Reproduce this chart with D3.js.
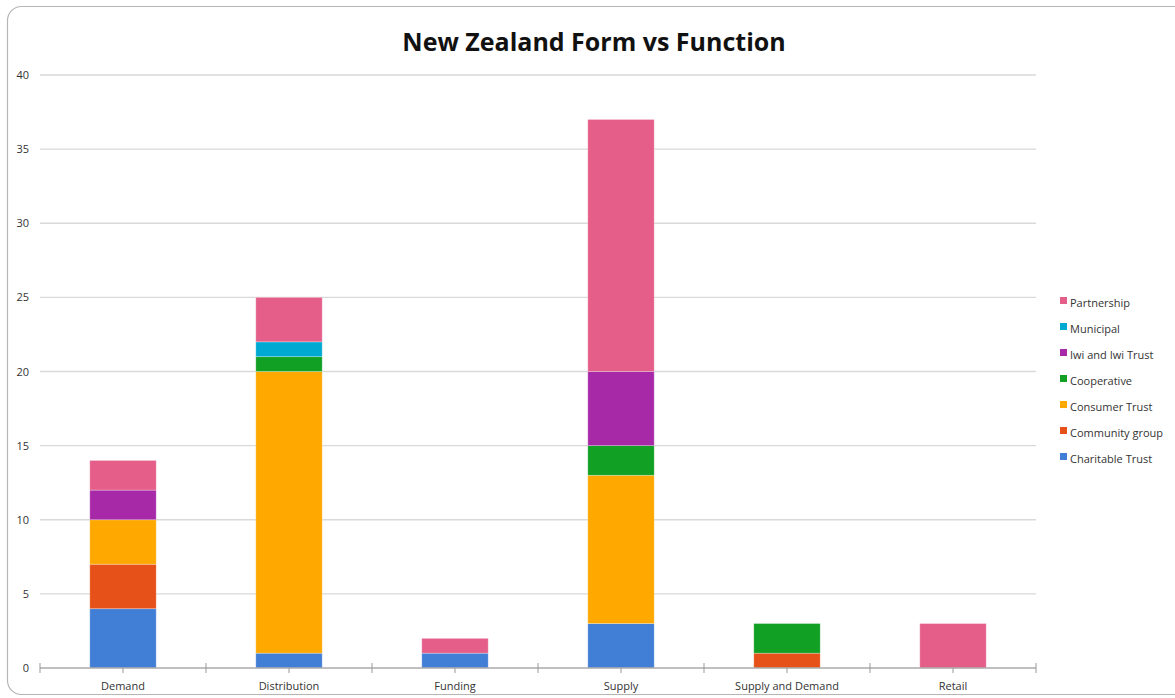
<!DOCTYPE html>
<html>
<head>
<meta charset="utf-8">
<script src="https://cdn.jsdelivr.net/npm/d3@7"></script>
<style>
  body { margin: 0; background: #fff; }
  svg { display: block; font-family: "Open Sans", sans-serif; }
</style>
</head>
<body>
<svg id="chart" width="1175" height="698"></svg>
<script>
// Data
const categories = ["Demand", "Distribution", "Funding", "Supply", "Supply and Demand", "Retail"];
const seriesNames = ["Charitable Trust", "Community group", "Consumer Trust", "Cooperative", "Iwi and Iwi Trust", "Municipal", "Partnership"];
const charitableTrust = [4, 1, 1, 3, 0, 0];
const communityGroup  = [3, 0, 0, 0, 1, 0];
const consumerTrust   = [3, 19, 0, 10, 0, 0];
const cooperative     = [0, 1, 0, 2, 2, 0];
const iwiTrust        = [2, 0, 0, 5, 0, 0];
const municipal       = [0, 1, 0, 0, 0, 0];
const partnership     = [2, 3, 1, 17, 0, 3];
const yTicks = [0, 5, 10, 15, 20, 25, 30, 35, 40];

const colors = ["#417ed6", "#e65119", "#ffa800", "#12a024", "#a829a8", "#00a9d1", "#e55e8a"];
const seriesValues = [charitableTrust, communityGroup, consumerTrust, cooperative, iwiTrust, municipal, partnership];

// build table for d3.stack
const table = categories.map((c, i) => {
  let row = { category: c };
  seriesNames.forEach((s, j) => { row[s] = seriesValues[j][i]; });
  return row;
});

const svg = d3.select("#chart");

let margin = { left: 40, right: 1036, top: 75, bottom: 668 };

// Outer frame
svg.append("rect")
  .attr("x", 7.5).attr("y", 6.5)
  .attr("width", 1200).attr("height", 688)
  .attr("rx", 14)
  .attr("fill", "none")
  .attr("stroke", "#b5b5b5")
  .attr("stroke-width", 1.2);

// Title
svg.append("text")
  .attr("x", 594).attr("y", 51)
  .attr("text-anchor", "middle")
  .attr("font-size", 25)
  .attr("font-weight", "bold")
  .attr("fill", "#111")
  .text("New Zealand Form vs Function");

var xScale = d3.scaleBand().domain(categories).range([margin.left, margin.right]).paddingInner(0).paddingOuter(0);
var yScale = d3.scaleLinear().domain([0, 40]).range([margin.bottom, margin.top]);

// Gridlines
svg.append("g")
  .selectAll("line")
  .data(yTicks.filter(d => d > 0))
  .join("line")
  .attr("x1", margin.left).attr("x2", margin.right)
  .attr("y1", d => yScale(d)).attr("y2", d => yScale(d))
  .attr("stroke", "#d9d9d9")
  .attr("stroke-width", 1.3);

// Y labels
svg.append("g")
  .selectAll("text")
  .data(yTicks)
  .join("text")
  .attr("x", 29)
  .attr("y", d => yScale(d) + 4)
  .attr("text-anchor", "end")
  .attr("font-size", 11)
  .attr("fill", "#333")
  .text(d => d);

// Stacked bars
const stack = d3.stack().keys(seriesNames);
const stacked = stack(table);
const barWidth = xScale.bandwidth() * 0.4;

svg.append("g")
  .selectAll("g")
  .data(stacked)
  .join("g")
  .attr("fill", (d, i) => colors[i])
  .selectAll("rect")
  .data(d => d.filter(p => p[1] > p[0]))
  .join("rect")
  .attr("x", d => xScale(d.data.category) + (xScale.bandwidth() - barWidth) / 2)
  .attr("y", d => yScale(d[1]))
  .attr("width", barWidth)
  .attr("height", d => yScale(d[0]) - yScale(d[1]))
  .attr("stroke", "rgba(255,255,255,0.35)")
  .attr("stroke-width", 0.8);

// X axis
const xAxis = svg.append("g");
xAxis.append("line")
  .attr("x1", margin.left).attr("x2", margin.right)
  .attr("y1", margin.bottom).attr("y2", margin.bottom)
  .attr("stroke", "#aaa").attr("stroke-width", 1.3);

// boundary ticks
const bounds = categories.map(c => xScale(c)).concat([margin.right]);
xAxis.selectAll(".bt")
  .data(bounds)
  .join("line")
  .attr("x1", d => d).attr("x2", d => d)
  .attr("y1", margin.bottom - 5).attr("y2", margin.bottom + 5)
  .attr("stroke", "#999").attr("stroke-width", 1);

// centre ticks
xAxis.selectAll(".ct")
  .data(categories)
  .join("line")
  .attr("x1", d => xScale(d) + xScale.bandwidth() / 2)
  .attr("x2", d => xScale(d) + xScale.bandwidth() / 2)
  .attr("y1", margin.bottom).attr("y2", margin.bottom + 5)
  .attr("stroke", "#999").attr("stroke-width", 1);

xAxis.selectAll("text")
  .data(categories)
  .join("text")
  .attr("x", d => xScale(d) + xScale.bandwidth() / 2)
  .attr("y", 690)
  .attr("text-anchor", "middle")
  .attr("font-size", 11)
  .attr("fill", "#333")
  .text(d => d);

// Legend (top to bottom reversed order)
const legendItems = seriesNames.map((s, i) => ({ name: s, color: colors[i] })).reverse();
const legend = svg.append("g").attr("transform", "translate(1060, 303)");
const li = legend.selectAll("g")
  .data(legendItems)
  .join("g")
  .attr("transform", (d, i) => "translate(0," + i * 26 + ")");
li.append("rect")
  .attr("x", 0).attr("y", -6)
  .attr("width", 7).attr("height", 7)
  .attr("fill", d => d.color);
li.append("text")
  .attr("x", 10).attr("y", 4)
  .attr("font-size", 11)
  .attr("fill", "#333")
  .text(d => d.name);
</script>
</body>
</html>
